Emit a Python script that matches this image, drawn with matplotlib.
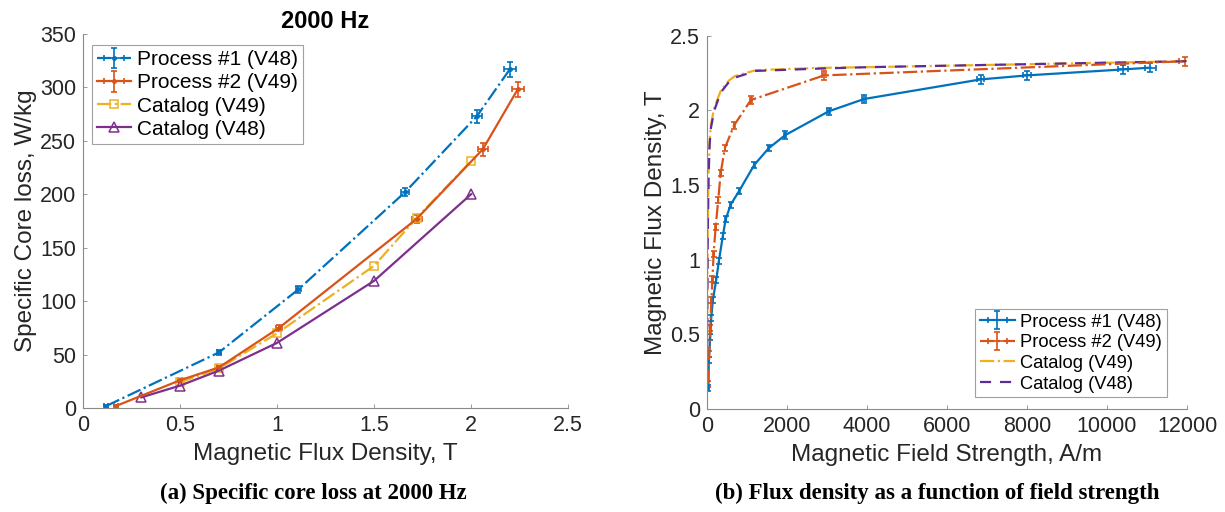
import numpy as np
import matplotlib
matplotlib.use("Agg")
import matplotlib.pyplot as plt

plt.rcParams['font.family'] = ['Liberation Sans', 'DejaVu Sans']

BLUE = '#0072BD'
RED = '#D95319'
YELLOW = '#EDB120'
PURPLE = '#7E2F8E'
NAVY = '#5B2C9A'
TXT = '#262626'

# ---- (a) core loss at 2000 Hz ----
p1_B = [0.12, 0.70, 1.11, 1.66, 2.03, 2.20]
p1_P = [2, 52, 111, 202, 273, 317]
p1_Berr = [0.01, 0.01, 0.015, 0.02, 0.025, 0.03]
p1_Perr = [0.5, 2, 3, 4, 6, 7]

p2_B = [0.17, 0.50, 0.70, 1.01, 1.72, 2.06, 2.24]
p2_P = [2, 26, 38, 75, 177, 242, 298]
p2_Berr = [0.01, 0.01, 0.01, 0.015, 0.025, 0.025, 0.03]
p2_Perr = [0.5, 1, 1.5, 3, 4, 6, 7]

c49_B = [0.5, 0.7, 1.0, 1.5, 1.72, 2.0]
c49_P = [24, 37, 70, 133, 178, 231]

c48_B = [0.3, 0.5, 0.7, 1.0, 1.5, 2.0]
c48_P = [10, 21, 35, 61, 119, 200]

# ---- (b) B-H curves ----
p1_H = [40, 50, 85, 110, 150, 235, 300, 400, 470, 597, 806, 1184, 1545, 1965,
        3050, 3930, 6840, 8000, 10400, 11080]
p1_Bh = [0.14, 0.33, 0.48, 0.61, 0.73, 0.865, 0.99, 1.16, 1.27, 1.37, 1.46, 1.635,
         1.747, 1.836, 1.995, 2.077, 2.208, 2.235, 2.275, 2.287]
p1_Herr = [2, 2, 3, 3, 4, 5, 6, 8, 9, 10, 12, 16, 20, 25, 40, 50, 90, 100, 130, 140]
p1_Bherr = [0.02, 0.02, 0.02, 0.02, 0.02, 0.02, 0.02, 0.02, 0.02, 0.02, 0.02, 0.02,
            0.02, 0.025, 0.025, 0.025, 0.03, 0.03, 0.03, 0.03]

p2_H = [30, 60, 85, 115, 140, 170, 220, 285, 345, 453, 680, 1100, 2930, 11950]
p2_Bh = [0.17, 0.37, 0.54, 0.73, 0.87, 1.04, 1.22, 1.40, 1.58, 1.75, 1.90, 2.07,
         2.235, 2.33]
p2_Herr = [2, 2, 3, 3, 4, 4, 5, 6, 7, 9, 12, 20, 45, 150]
p2_Bherr = [0.02, 0.02, 0.02, 0.02, 0.02, 0.02, 0.02, 0.02, 0.02, 0.02, 0.025,
            0.025, 0.03, 0.03]

cat_H = [0, 5, 10, 15, 20, 30, 45, 70, 100, 150, 200, 345, 550, 700, 1225, 2740,
         4000, 6000, 8000, 10000, 12000]
c49_Bh = [0, 0.35, 0.65, 0.9, 1.1, 1.35, 1.6, 1.8, 1.9, 1.97, 2.03, 2.13, 2.2,
          2.23, 2.27, 2.285, 2.29, 2.30, 2.31, 2.32, 2.33]
c48_Bh = [0, 0.3, 0.6, 0.85, 1.05, 1.3, 1.56, 1.77, 1.88, 1.95, 2.01, 2.12, 2.19,
          2.22, 2.265, 2.28, 2.29, 2.30, 2.31, 2.32, 2.33]

fig = plt.figure(figsize=(12.25, 5.12), dpi=100)
ax1 = fig.add_axes([0.0678, 0.203, 0.396, 0.731])
ax2 = fig.add_axes([0.577, 0.201, 0.392, 0.729])


def style(ax):
    for s in ['top', 'right']:
        ax.spines[s].set_visible(False)
    for s in ['left', 'bottom']:
        ax.spines[s].set_color('#8a8a8a')
        ax.spines[s].set_linewidth(0.8)
    ax.tick_params(direction='in', length=3, width=0.6, colors='#8a8a8a',
                   labelcolor=TXT, labelsize=15.5, pad=5)


def legend(ax, handles, size, hlen, **kw):
    leg = ax.legend(handles=handles, fontsize=size, frameon=True, fancybox=False,
                    edgecolor='#8a8a8a', handlelength=hlen, handletextpad=0.3,
                    borderpad=0.25, labelspacing=0.2, borderaxespad=0, **kw)
    leg.get_frame().set_linewidth(0.8)
    for t in leg.get_texts():
        t.set_color('black')
    return leg


ebkw = dict(capsize=2.5, elinewidth=1.2, capthick=1.2, lw=1.6, ms=5)

h1 = ax1.errorbar(p1_B, p1_P, xerr=p1_Berr, yerr=p1_Perr, color=BLUE, ls='-.',
                  marker='.', label='Process #1 (V48)', **ebkw)
h2 = ax1.errorbar(p2_B, p2_P, xerr=p2_Berr, yerr=p2_Perr, color=RED, ls='-',
                  marker='.', label='Process #2 (V49)', **ebkw)
h3, = ax1.plot(c49_B, c49_P, color=YELLOW, ls='-.', lw=1.6, marker='s', ms=6,
               mfc='none', mew=1.1, label='Catalog (V49)')
h4, = ax1.plot(c48_B, c48_P, color=PURPLE, ls='-', lw=1.6, marker='^', ms=7,
               mfc='none', mew=1.1, label='Catalog (V48)')
ax1.set_xlim(0, 2.5)
ax1.set_ylim(0, 350)
ax1.set_xticks(np.arange(0, 2.51, 0.5))
ax1.set_xticklabels(['0', '0.5', '1', '1.5', '2', '2.5'])
ax1.set_yticks(np.arange(0, 351, 50))
style(ax1)
ax1.set_xlabel('Magnetic Flux Density, T', fontsize=17.5, color=TXT, labelpad=5)
ax1.set_ylabel('Specific Core loss, W/kg', fontsize=17.5, color=TXT, labelpad=2)
ax1.set_title('2000 Hz', fontsize=17, fontweight='bold', color='black', pad=4)
legend(ax1, [h1, h2, h3, h4], 15, 1.6, loc='upper left',
       bbox_to_anchor=(0.0186, 0.97))

g1 = ax2.errorbar(p1_H, p1_Bh, xerr=p1_Herr, yerr=p1_Bherr, color=BLUE, ls='-',
                  marker='', label='Process #1 (V48)', **ebkw)
g2 = ax2.errorbar(p2_H, p2_Bh, xerr=p2_Herr, yerr=p2_Bherr, color=RED, ls='-.',
                  marker='', label='Process #2 (V49)', **ebkw)
g3, = ax2.plot(cat_H, c49_Bh, color=YELLOW, ls='-.', lw=1.6, label='Catalog (V49)')
g4, = ax2.plot(cat_H, c48_Bh, color=NAVY, ls=(0, (5, 4)), lw=1.6,
               label='Catalog (V48)')
ax2.set_xlim(0, 12000)
ax2.set_ylim(0, 2.5)
ax2.set_xticks(np.arange(0, 12001, 2000))
ax2.set_yticks(np.arange(0, 2.51, 0.5))
ax2.set_yticklabels(['0', '0.5', '1', '1.5', '2', '2.5'])
style(ax2)
ax2.set_xlabel('Magnetic Field Strength, A/m', fontsize=17.5, color=TXT, labelpad=5)
ax2.set_ylabel('Magnetic Flux Density, T', fontsize=17.5, color=TXT, labelpad=2)
legend(ax2, [g1, g2, g3, g4], 13.2, 1.9, loc='lower right',
       bbox_to_anchor=(0.958, 0.032))

cap = dict(ha='center', va='center', fontsize=16.5, fontweight='bold',
           family=['Liberation Serif', 'DejaVu Serif'], color='black')
fig.text(0.2556, 0.037, '(a) Specific core loss at 2000 Hz', **cap)
fig.text(0.765, 0.037, '(b) Flux density as a function of field strength', **cap)

fig.savefig('out.png', dpi=100)
